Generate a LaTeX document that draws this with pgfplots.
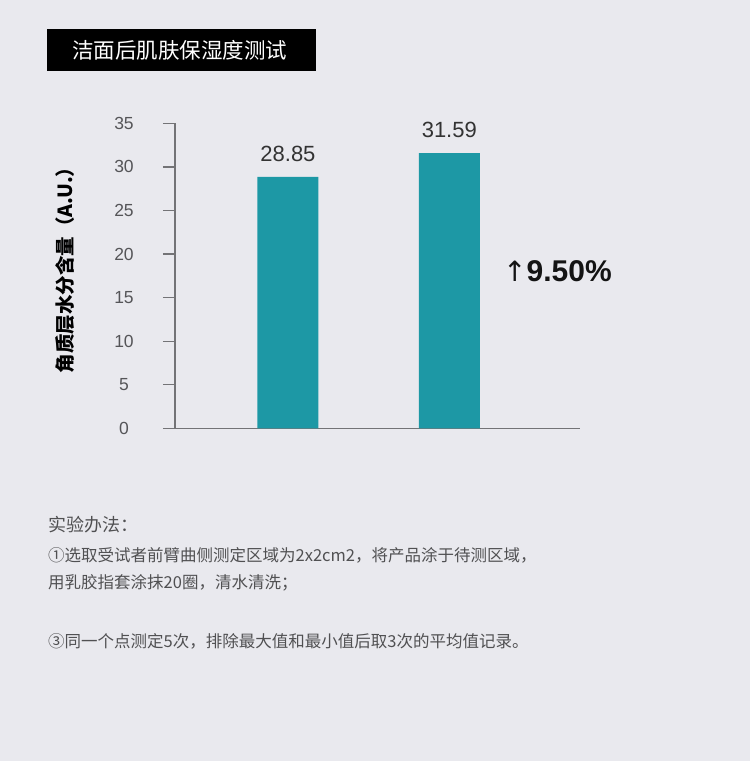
\documentclass[border=0pt]{standalone}
\usepackage{fontspec}
\setmainfont{Liberation Sans}
\newfontfamily\cjk{Noto Sans CJK SC}
\newfontfamily\dejavu{DejaVu Sans}
\usepackage{pgfplots}
\pgfplotsset{compat=1.18}
\definecolor{bg}{RGB}{233,233,238}
\definecolor{barc}{RGB}{29,152,165}
\definecolor{axgray}{RGB}{115,115,118}
\definecolor{tickc}{RGB}{85,85,88}
\definecolor{textc}{RGB}{80,80,82}
\begin{document}
\begin{tikzpicture}[x=1pt,y=1pt]
\fill[bg] (0,0) rectangle (750,761);
\fill[black] (47,690) rectangle (316,732);
\node[anchor=west, text=white, inner sep=0] at (72,711) {\cjk\fontsize{21.5}{24}\selectfont 洁面后肌肤保湿度测试};
\begin{axis}[
  at={(175pt,332.7pt)}, anchor=south west,
  scale only axis, width=405pt, height=305pt,
  xmin=0.3, xmax=2.81, ymin=0, ymax=35,
  axis x line=bottom, axis y line=left,
  axis line style={axgray, line width=1.3pt, -},
  xtick=\empty,
  ytick={0,5,...,35},
  tick style={axgray, line width=1.3pt},
  major tick style={axgray, line width=1.3pt},
  ytick style={axgray, line width=1.3pt},
  major tick length=12pt,
  tick align=outside,
  /pgf/number format/assume math mode=true,
  yticklabel style={font=\fontsize{17.5}{20}\selectfont, text=tickc, anchor=center, xshift=-39pt},
  ylabel={\cjk\bfseries 角质层水分含量（A.U.）},
  ylabel style={font=\fontsize{19.5}{22}\selectfont, text=black, at={(axis description cs:-0.272,0.534)}, anchor=center},
  ybar, bar width=61pt,
  nodes near coords={\pgfmathprintnumber[fixed,precision=2,zerofill]{\pgfplotspointmeta}},
  every node near coord/.append style={font=\fontsize{22}{24}\selectfont, text=black!80, anchor=south, inner sep=0, yshift=15pt},
  clip=false,
]
\addplot[fill=barc, draw=none] coordinates {(1,28.85) (2,31.59)};
\draw[axgray, line width=1.3pt] (rel axis cs:0,0) -- ([xshift=-12pt]rel axis cs:0,0);
\end{axis}
\node[anchor=west, inner sep=0, text=black!92] at (503,490) {\fontsize{30}{32}\selectfont{\dejavu\fontsize{28}{32}\selectfont ↑}\bfseries 9.50\%};
\node[anchor=west, inner sep=0, text=textc] at (48,236) {\cjk\fontsize{18}{20}\selectfont 实验办法：};
\node[anchor=west, inner sep=0, text=textc] at (48,206) {\cjk\fontsize{16.5}{20}\selectfont ①选取受试者前臂曲侧测定区域为2x2cm2，将产品涂于待测区域，};
\node[anchor=west, inner sep=0, text=textc] at (48,178) {\cjk\fontsize{16.5}{20}\selectfont 用乳胶指套涂抹20圈，清水清洗；};
\node[anchor=west, inner sep=0, text=textc] at (48,120) {\cjk\fontsize{16.5}{20}\selectfont ③同一个点测定5次，排除最大值和最小值后取3次的平均值记录。};
\end{tikzpicture}
\end{document}
